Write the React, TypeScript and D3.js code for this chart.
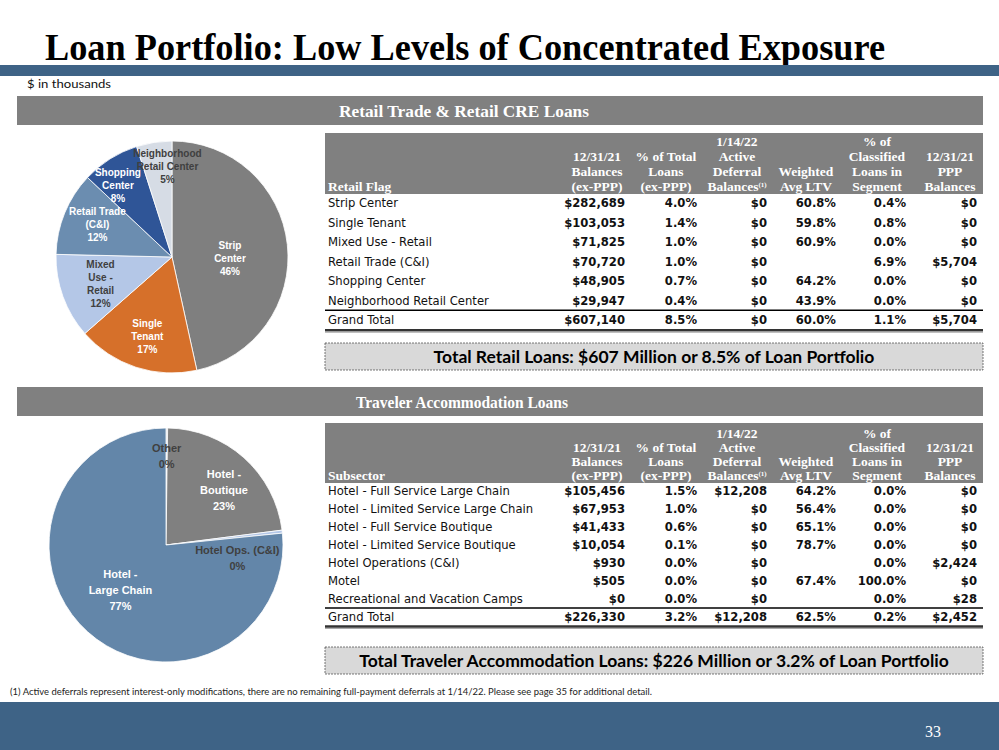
import React from "react";
import * as d3 from "d3";

// ---------- DATA ----------
const retailCategories = [
  "Strip Center",
  "Single Tenant",
  "Mixed Use - Retail",
  "Retail Trade (C&I)",
  "Shopping Center",
  "Neighborhood Retail Center",
];
const retailBalances = [282689, 103053, 71825, 70720, 48905, 29947];
const retailPctTotal = [4.0, 1.4, 1.0, 1.0, 0.7, 0.4];
const retailDeferral = [0, 0, 0, 0, 0, 0];
const retailLTV: (number | null)[] = [60.8, 59.8, 60.9, null, 64.2, 43.9];
const retailClassified = [0.4, 0.8, 0.0, 6.9, 0.0, 0.0];
const retailPPP = [0, 0, 0, 5704, 0, 0];
const retailTotalRow: (number | null)[] = [607140, 8.5, 0, 60.0, 1.1, 5704];
const retailPieLabels = [
  ["Strip", "Center"],
  ["Single", "Tenant"],
  ["Mixed", "Use -", "Retail"],
  ["Retail Trade", "(C&I)"],
  ["Shopping", "Center"],
  ["Neighborhood", "Retail Center"],
];
const retailPiePct = ["46%", "17%", "12%", "12%", "8%", "5%"];

const hotelCategories = [
  "Hotel - Full Service Large Chain",
  "Hotel - Limited Service Large Chain",
  "Hotel - Full Service Boutique",
  "Hotel - Limited Service Boutique",
  "Hotel Operations (C&I)",
  "Motel",
  "Recreational and Vacation Camps",
];
const hotelBalances = [105456, 67953, 41433, 10054, 930, 505, 0];
const hotelPctTotal = [1.5, 1.0, 0.6, 0.1, 0.0, 0.0, 0.0];
const hotelDeferral = [12208, 0, 0, 0, 0, 0, 0];
const hotelLTV: (number | null)[] = [64.2, 56.4, 65.1, 78.7, null, 67.4, null];
const hotelClassified = [0.0, 0.0, 0.0, 0.0, 0.0, 100.0, 0.0];
const hotelPPP = [0, 0, 0, 0, 2424, 0, 28];
const hotelTotalRow: (number | null)[] = [226330, 3.2, 12208, 62.5, 0.2, 2452];
const hotelPieGroups = ["Other", "Hotel - Boutique", "Hotel Ops. (C&I)", "Hotel - Large Chain"];
const hotelPieGroupOf = [3, 3, 1, 1, 2, 0, 0];
const hotelPieLabels = [["Other"], ["Hotel -", "Boutique"], ["Hotel Ops. (C&I)"], ["Hotel -", "Large Chain"]];
const hotelPiePct = ["0%", "23%", "0%", "77%"];

const columnHeaders = [
  ["12/31/21", "Balances", "(ex-PPP)"],
  ["% of Total", "Loans", "(ex-PPP)"],
  ["1/14/22", "Active", "Deferral", "Balances"],
  ["Weighted", "Avg LTV"],
  ["% of", "Classified", "Loans in", "Segment"],
  ["12/31/21", "PPP", "Balances"],
];

// ---------- STYLE / LAYOUT ----------
const BLUE = "#3e6386";
const GRAY = "#808080";
const retailColors = ["#7f7f7f", "#d6702a", "#b4c7e7", "#6b8db0", "#2f5597", "#d6dce5"];
const retailLabelColors = ["#fff", "#fff", "#404040", "#fff", "#fff", "#404040"];
const retailLabelLayout = [[0.5, 8], [0.72, -1], [0.66, -1], [0.7, 1], [0.77, -5], [0.78, 6]];
const hotelColors = ["#d6dce5", "#808080", "#b4c7e7", "#6386a9"];
const hotelLabelColors = ["#404040", "#fff", "#404040", "#fff"];
const hotelLabelLayout = [[0.76, 0], [0.68, 5], [0.62, 17], [0.55, 3]];

const SANS = "'DejaVu Sans', Verdana, sans-serif";
const SERIF = "'Liberation Serif', 'Times New Roman', serif";
const ARIAL = "'Liberation Sans', Arial, sans-serif";
const LATO = "Lato, 'Liberation Sans', sans-serif";

const colRight = [625, 697, 767, 836, 906, 977];
const colCenter = [597, 666, 737, 806, 877, 950];
const fmtMoney = (v: number) => "$" + d3.format(",")(v);
const fmtPct = (v: number) => d3.format(".1f")(v) + "%";

function Pie({
  cx, cy, r, values, colors, labels, pcts, labelColors, layout, fontSize, lineH,
}: any) {
  const pie = d3.pie<number>().sort(null).value((d) => d);
  const arcs = pie(values);
  const arc = d3.arc<d3.PieArcDatum<number>>().innerRadius(0).outerRadius(r);
  return (
    <g transform={`translate(${cx},${cy})`}>
      {arcs.map((a, i) => (
        <path key={i} d={arc(a) || ""} fill={colors[i]} stroke="#fff" strokeWidth={0.8} />
      ))}
      {arcs.map((a, i) => {
        const [rf, off] = layout[i];
        const ang = (a.startAngle + a.endAngle) / 2 + (off * Math.PI) / 180;
        const x = Math.sin(ang) * r * rf;
        const y = -Math.cos(ang) * r * rf;
        const lines = [...labels[i], pcts[i]];
        const y0 = y - ((lines.length - 1) * lineH) / 2;
        return (
          <text
            key={"l" + i}
            x={x}
            textAnchor="middle"
            fontFamily={ARIAL}
            fontWeight="bold"
            fontSize={fontSize}
            fill={labelColors[i]}
          >
            {lines.map((t: string, j: number) => (
              <tspan key={j} x={x} y={y0 + j * lineH} dy="0.35em">
                {t}
              </tspan>
            ))}
          </text>
        );
      })}
    </g>
  );
}

function Table({
  headTop, headBottom, headLine0, headStep, firstLabel, rowStart, rowStep, cats, cols, total,
}: any) {
  const n = cats.length;
  const rowY = (i: number) => rowStart + i * rowStep;
  const totalY = rowY(n);
  const lineA = totalY - rowStep / 2;
  const lineB = totalY + rowStep / 2 + 0.5;
  const fmts = [fmtMoney, fmtPct, fmtMoney, fmtPct, fmtPct, fmtMoney];
  const HF = 13.5;
  const BF = 11.6;
  return (
    <g>
      <rect x={325} y={headTop} width={658} height={headBottom - headTop} fill={GRAY} />
      <text
        x={328}
        y={headLine0 + 3 * headStep}
        dy="0.35em"
        fontFamily={SERIF}
        fontWeight="bold"
        fontSize={HF}
        fill="#fff"
      >
        {firstLabel}
      </text>
      {columnHeaders.map((lines, c) => (
        <g key={c}>
          {lines.map((t, j) => {
            const li = 4 - lines.length + j;
            const isSup = c === 2 && j === lines.length - 1;
            return (
              <text
                key={j}
                x={colCenter[c]}
                y={headLine0 + li * headStep}
                dy="0.35em"
                textAnchor="middle"
                fontFamily={SERIF}
                fontWeight="bold"
                fontSize={HF}
                fill="#fff"
              >
                {t}
                {isSup ? (
                  <tspan fontSize={7} dy="-4">
                    (1)
                  </tspan>
                ) : null}
              </text>
            );
          })}
        </g>
      ))}
      {cats.map((c: string, i: number) => (
        <g key={i}>
          <text x={328} y={rowY(i)} dy="0.35em" fontFamily={SANS} fontSize={BF} fill="#111">
            {c}
          </text>
          {cols.map((arr: (number | null)[], k: number) =>
            arr[i] == null ? null : (
              <text
                key={k}
                x={colRight[k]}
                y={rowY(i)}
                dy="0.35em"
                textAnchor="end"
                fontFamily={SANS}
                fontWeight="bold"
                fontSize={BF}
                fill="#111"
              >
                {fmts[k](arr[i] as number)}
              </text>
            )
          )}
        </g>
      ))}
      <line x1={325} x2={983} y1={lineA} y2={lineA} stroke="#000" strokeWidth={1.3} />
      <text x={328} y={totalY} dy="0.35em" fontFamily={SANS} fontSize={BF} fill="#111">
        Grand Total
      </text>
      {total.map((v: number | null, k: number) =>
        v == null ? null : (
          <text
            key={k}
            x={colRight[k]}
            y={totalY}
            dy="0.35em"
            textAnchor="end"
            fontFamily={SANS}
            fontWeight="bold"
            fontSize={BF}
            fill="#111"
          >
            {fmts[k](v)}
          </text>
        )
      )}
      <line x1={325} x2={983} y1={lineB} y2={lineB} stroke="#333" strokeWidth={2.6} />
      <line x1={325} x2={983} y1={lineB + 2} y2={lineB + 2} stroke="#aaa" strokeWidth={1} />
    </g>
  );
}

function TotalBox({ y, text }: { y: number; text: string }) {
  return (
    <g>
      <rect x={325} y={y} width={658} height={27} fill="#d9d9d9" stroke="#555" strokeWidth={0.8} strokeDasharray="2 1" />
      <text x={654} y={y + 14} dy="0.35em" textAnchor="middle" fontFamily={LATO} fontWeight="bold" fontSize={17.5} fill="#000">
        {text}
      </text>
    </g>
  );
}

export default function App() {
  const hotelPieValues = hotelPieGroups.map((_, g) =>
    d3.sum(hotelBalances.filter((_, i) => hotelPieGroupOf[i] === g))
  );
  return (
    <svg
      width={999}
      height={750}
      viewBox="0 0 999 750"
      style={{ position: "absolute", left: 0, top: 0, background: "#fff" }}
    >
      <rect x={0} y={0} width={999} height={750} fill="#fff" />
      <text
        x={45}
        y={60}
        fontFamily={SERIF}
        fontWeight="bold"
        fontSize={37}
        fill="#000"
        textLength={840}
        lengthAdjust="spacingAndGlyphs"
      >
        Loan Portfolio: Low Levels of Concentrated Exposure
      </text>
      <rect x={0} y={65} width={999} height={11} fill={BLUE} />
      <text x={27} y={88} fontFamily={LATO} fontSize={12} fill="#111" textLength={84} lengthAdjust="spacingAndGlyphs">
        $ in thousands
      </text>

      {/* Retail section */}
      <rect x={17} y={96} width={966} height={29} fill={GRAY} />
      <text x={464} y={111} dy="0.35em" textAnchor="middle" fontFamily={SERIF} fontWeight="bold" fontSize={17} fill="#fff" textLength={250} lengthAdjust="spacingAndGlyphs">
        Retail Trade &amp; Retail CRE Loans
      </text>
      <Pie
        cx={172}
        cy={257}
        r={116}
        values={retailBalances}
        colors={retailColors}
        labels={retailPieLabels}
        pcts={retailPiePct}
        labelColors={retailLabelColors}
        layout={retailLabelLayout}
        fontSize={10}
        lineH={13}
      />
      <Table
        headTop={133}
        headBottom={194}
        headLine0={141}
        headStep={15}
        firstLabel="Retail Flag"
        rowStart={203}
        rowStep={19.5}
        cats={retailCategories}
        cols={[retailBalances, retailPctTotal, retailDeferral, retailLTV, retailClassified, retailPPP]}
        total={retailTotalRow}
      />
      <TotalBox y={343} text="Total Retail Loans: $607 Million or 8.5% of Loan Portfolio" />

      {/* Traveler section */}
      <rect x={17} y={387} width={966} height={29} fill={GRAY} />
      <text x={462} y={402} dy="0.35em" textAnchor="middle" fontFamily={SERIF} fontWeight="bold" fontSize={17} fill="#fff" textLength={212} lengthAdjust="spacingAndGlyphs">
        Traveler Accommodation Loans
      </text>
      <Pie
        cx={166}
        cy={545}
        r={117}
        values={hotelPieValues}
        colors={hotelColors}
        labels={hotelPieLabels}
        pcts={hotelPiePct}
        labelColors={hotelLabelColors}
        layout={hotelLabelLayout}
        fontSize={11}
        lineH={16}
      />
      <Table
        headTop={423}
        headBottom={483}
        headLine0={433}
        headStep={14.2}
        firstLabel="Subsector"
        rowStart={491}
        rowStep={18}
        cats={hotelCategories}
        cols={[hotelBalances, hotelPctTotal, hotelDeferral, hotelLTV, hotelClassified, hotelPPP]}
        total={hotelTotalRow}
      />
      <TotalBox y={647} text="Total Traveler Accommodation Loans: $226 Million or 3.2% of Loan Portfolio" />

      <text x={10} y={695} fontFamily={LATO} fontSize={8.5} fill="#222" textLength={642} lengthAdjust="spacingAndGlyphs">
        (1) Active deferrals represent interest-only modifications, there are no remaining full-payment deferrals at 1/14/22.  Please see page 35 for additional detail.
      </text>
      <rect x={0} y={702} width={999} height={48} fill={BLUE} />
      <text x={933} y={731} dy="0.35em" textAnchor="middle" fontFamily={SERIF} fontSize={16} fill="#fff">
        33
      </text>
    </svg>
  );
}
